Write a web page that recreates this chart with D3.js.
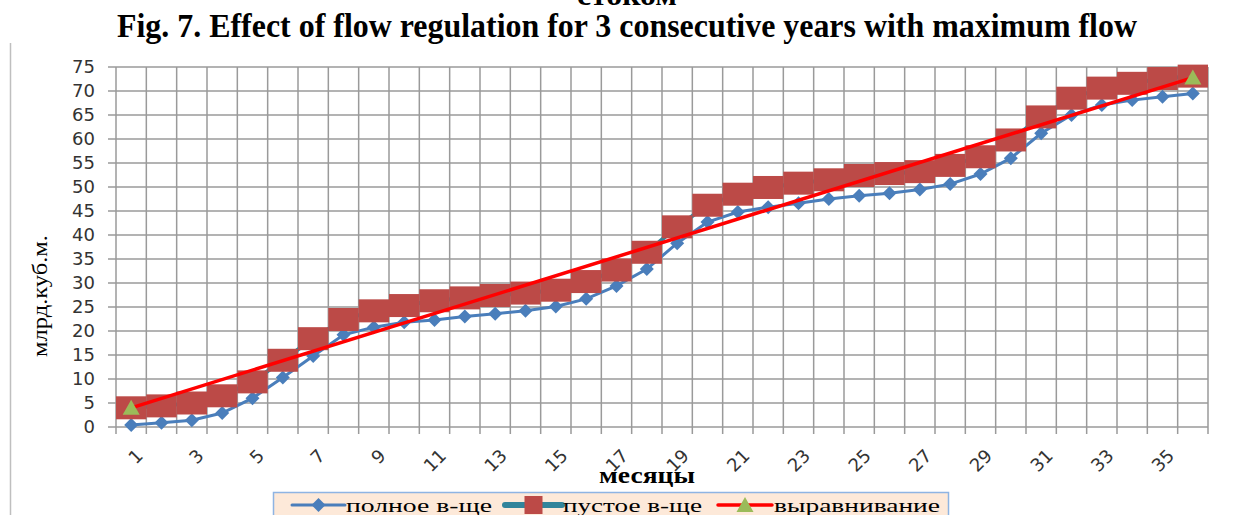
<!DOCTYPE html>
<html>
<head>
<meta charset="utf-8">
<script src="https://cdn.jsdelivr.net/npm/d3@7"></script>
<style>
  body { margin: 0; background: #fff; }
  svg { display: block; }
</style>
</head>
<body>
<svg id="chart" width="1240" height="515"></svg>
<script>
// chart data
const months = [1, 2, 3, 4, 5, 6, 7, 8, 9, 10, 11, 12, 13, 14, 15, 16, 17, 18,
  19, 20, 21, 22, 23, 24, 25, 26, 27, 28, 29, 30, 31, 32, 33, 34, 35, 36];
const fullValues = [0.4, 0.9, 1.4, 2.9, 6.0, 10.3, 14.8, 19.2, 20.8, 21.8, 22.3, 23.0,
  23.6, 24.2, 25.1, 26.7, 29.4, 32.9, 38.3, 42.7, 44.8, 45.8, 46.6, 47.5,
  48.2, 48.7, 49.5, 50.6, 52.7, 56.0, 61.2, 65.0, 67.1, 68.1, 68.8, 69.5];
const emptyValues = [4.0, 4.4, 5.0, 6.5, 9.4, 13.9, 18.4, 22.4, 24.2, 25.3, 26.3, 26.9,
  27.4, 27.9, 28.5, 30.3, 32.7, 36.4, 41.7, 46.2, 48.5, 49.9, 50.8, 51.5,
  52.4, 52.8, 53.2, 54.5, 56.3, 59.8, 64.6, 68.5, 70.6, 71.6, 72.6, 73.1];
const alignValues = [4.0, null, null, null, null, null, null, null, null, null, null, null,
  null, null, null, null, null, null, null, null, null, null, null, null,
  null, null, null, null, null, null, null, null, null, null, null, 72.8];
const yTicks = [0, 5, 10, 15, 20, 25, 30, 35, 40, 45, 50, 55, 60, 65, 70, 75];
const xTickLabels = [1, 3, 5, 7, 9, 11, 13, 15, 17, 19, 21, 23, 25, 27, 29, 31, 33, 35];
const seriesNames = ['полное в-ще', 'пустое в-ще', 'выравнивание'];

const svg = d3.select('#chart');
const plotLeft = 116;
const plotRight = 1208;
const plotTop = 67;
const plotBottom = 427;

const x = d3.scaleBand().domain(months).range([plotLeft, plotRight]).padding(0);
const y = d3.scaleLinear().domain([0, 75]).range([plotBottom, plotTop]);
const cx = m => x(m) + x.bandwidth() / 2;

// title lines (the first one is cut by the page edge in the source)
svg.append('text')
  .attr('x', 627).attr('y', 5)
  .attr('text-anchor', 'middle')
  .attr('textLength', 100)
  .attr('lengthAdjust', 'spacingAndGlyphs')
  .style('font', 'bold 30px "Liberation Serif"')
  .text('стоком');

svg.append('text')
  .attr('x', 627).attr('y', 37)
  .attr('text-anchor', 'middle')
  .attr('textLength', 1020)
  .attr('lengthAdjust', 'spacingAndGlyphs')
  .style('font', 'bold 34px "Liberation Serif"')
  .text('Fig. 7. Effect of flow regulation for 3 consecutive years with maximum flow');

// chart area border (only the left edge is visible)
svg.append('line')
  .attr('x1', 10.5).attr('x2', 10.5)
  .attr('y1', 43).attr('y2', 515)
  .attr('stroke', '#bfbfbf')
  .attr('stroke-width', 1.5);

// gridlines
const grid = svg.append('g').attr('stroke', '#9a9a9a').attr('stroke-width', 1.5);
grid.selectAll('.h')
  .data(yTicks)
  .join('line')
  .attr('x1', plotLeft - 8).attr('x2', plotRight)
  .attr('y1', d => y(d)).attr('y2', d => y(d));
grid.selectAll('.v')
  .data([...months.map(m => x(m)), plotRight])
  .join('line')
  .attr('x1', d => d).attr('x2', d => d)
  .attr('y1', plotTop).attr('y2', plotBottom + 7);

// y axis labels
svg.append('g')
  .selectAll('text')
  .data(yTicks)
  .join('text')
  .attr('x', 95)
  .attr('y', d => y(d))
  .attr('dy', '0.36em')
  .attr('text-anchor', 'end')
  .attr('fill', '#333')
  .style('font', '18px "DejaVu Sans"')
  .text(d => d);

// x axis labels, rotated
svg.append('g')
  .selectAll('text')
  .data(xTickLabels)
  .join('text')
  .attr('transform', d => `translate(${cx(d) + 4},${plotBottom + 21}) rotate(-45)`)
  .attr('dy', '0.7em')
  .attr('text-anchor', 'end')
  .attr('fill', '#333')
  .style('font', '18px "DejaVu Sans"')
  .text(d => d);

// axis titles
svg.append('text')
  .attr('transform', 'translate(47,296) rotate(-90)')
  .attr('text-anchor', 'middle')
  .attr('textLength', 122)
  .attr('lengthAdjust', 'spacingAndGlyphs')
  .style('font', '20px "Liberation Serif"')
  .text('млрд.куб.м.');

svg.append('text')
  .attr('x', 647).attr('y', 483)
  .attr('text-anchor', 'middle')
  .attr('textLength', 96)
  .attr('lengthAdjust', 'spacingAndGlyphs')
  .style('font', 'bold 24px "Liberation Serif"')
  .text('месяцы');

const diamond = 'M0,-7L7,0L0,7L-7,0Z';
const triangle = 'M0,-8L8.5,7L-8.5,7Z';

// series 1: full reservoir
const fullData = months.map((m, i) => ({ m, v: fullValues[i] }));
svg.append('path')
  .attr('fill', 'none')
  .attr('stroke', '#4a7ebb')
  .attr('stroke-width', 3)
  .attr('d', d3.line().x(d => cx(d.m)).y(d => y(d.v))(fullData));
svg.append('g')
  .selectAll('path')
  .data(fullData)
  .join('path')
  .attr('transform', d => `translate(${cx(d.m)},${y(d.v)})`)
  .attr('d', diamond)
  .attr('fill', '#4a7ebb');

// series 2: empty reservoir
const emptyData = months.map((m, i) => ({ m, v: emptyValues[i] }));
svg.append('path')
  .attr('fill', 'none')
  .attr('stroke', '#31849b')
  .attr('stroke-width', 4)
  .attr('d', d3.line().x(d => cx(d.m)).y(d => y(d.v))(emptyData));
svg.append('g')
  .selectAll('rect')
  .data(emptyData)
  .join('rect')
  .attr('x', d => x(d.m))
  .attr('y', d => y(d.v) - 11.5)
  .attr('width', x.bandwidth())
  .attr('height', 23)
  .attr('fill', '#bc4a47');

// series 3: alignment line, only two defined points
const alignData = months.map((m, i) => ({ m, v: alignValues[i] })).filter(d => d.v !== null);
svg.append('path')
  .attr('fill', 'none')
  .attr('stroke', '#ff0000')
  .attr('stroke-width', 3.5)
  .attr('d', d3.line().x(d => cx(d.m)).y(d => y(d.v))(alignData));
svg.append('g')
  .selectAll('path')
  .data(alignData)
  .join('path')
  .attr('transform', d => `translate(${cx(d.m)},${y(d.v)})`)
  .attr('d', triangle)
  .attr('fill', '#9bbb59');

// legend
const legend = svg.append('g');
legend.append('rect')
  .attr('x', 273.5).attr('y', 492.5)
  .attr('width', 675).attr('height', 30)
  .attr('fill', '#fde9d9')
  .attr('stroke', '#8eb4e3')
  .attr('stroke-width', 1.5);

const legendItems = [
  { name: seriesNames[0], x0: 292, x1: 345, tx: 346, tl: 146, color: '#4a7ebb', width: 3, mark: 'diamond', mcolor: '#4a7ebb' },
  { name: seriesNames[1], x0: 505, x1: 562, tx: 563, tl: 139, color: '#31849b', width: 6, mark: 'square', mcolor: '#bc4a47' },
  { name: seriesNames[2], x0: 718, x1: 772, tx: 774, tl: 166, color: '#ff0000', width: 3.5, mark: 'triangle', mcolor: '#9bbb59' }
];
const ly = 505;
legendItems.forEach(item => {
  legend.append('line')
    .attr('x1', item.x0).attr('x2', item.x1)
    .attr('y1', ly).attr('y2', ly)
    .attr('stroke', item.color)
    .attr('stroke-width', item.width)
    .attr('stroke-linecap', 'round');
  const mx = (item.x0 + item.x1) / 2;
  if (item.mark === 'square') {
    legend.append('rect')
      .attr('x', mx - 9).attr('y', ly - 9)
      .attr('width', 18).attr('height', 18)
      .attr('fill', item.mcolor);
  } else {
    legend.append('path')
      .attr('transform', `translate(${mx},${ly})`)
      .attr('d', item.mark === 'diamond' ? diamond : triangle)
      .attr('fill', item.mcolor);
  }
  legend.append('text')
    .attr('x', item.tx).attr('y', 512)
    .attr('textLength', item.tl)
    .attr('lengthAdjust', 'spacingAndGlyphs')
    .style('font', '19px "Liberation Serif"')
    .text(item.name);
});
</script>
</body>
</html>
